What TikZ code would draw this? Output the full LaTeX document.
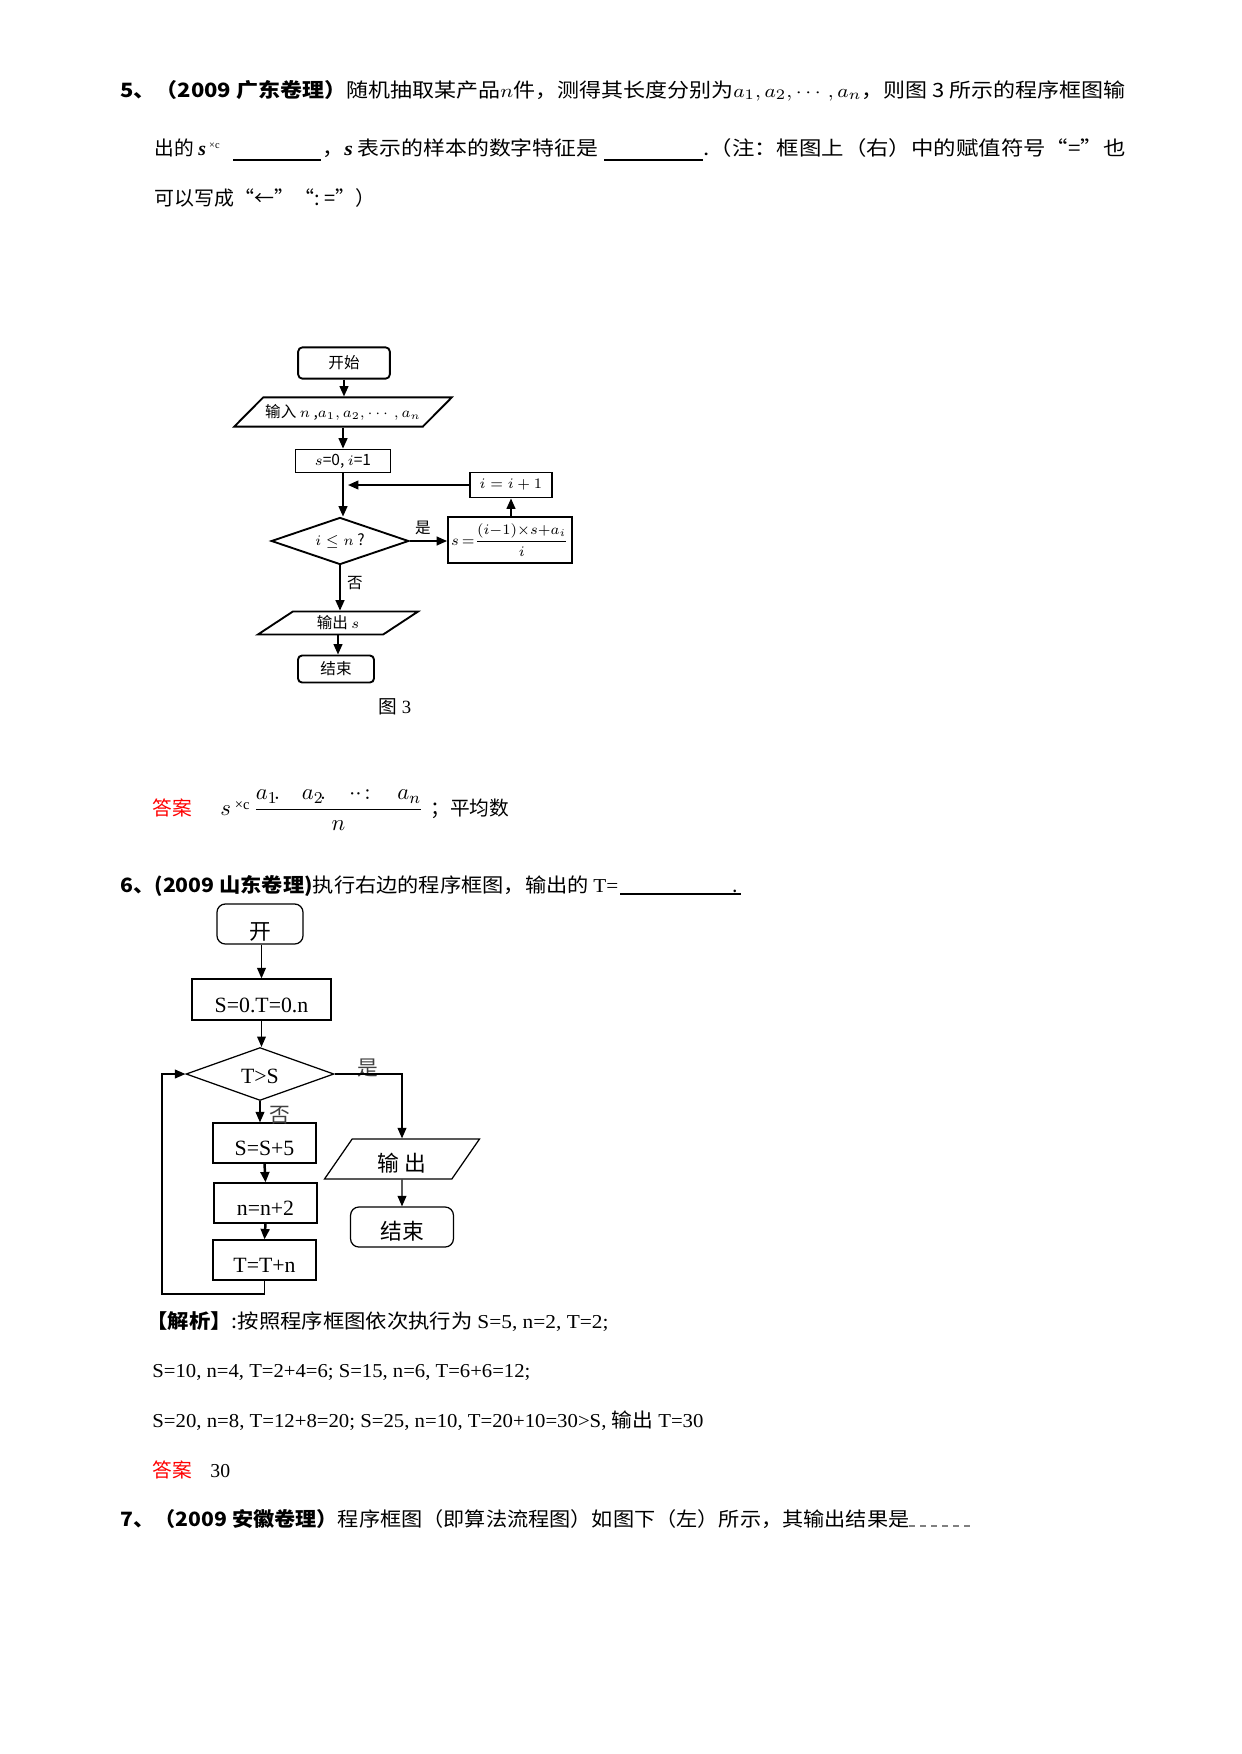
\documentclass[tikz,border=0pt]{standalone}
\usepackage{fontspec}
\usepackage{amsmath}
\usepackage{graphicx}
\setmainfont{Liberation Serif}
\newfontfamily\cjk{Noto Sans CJK SC}
\usetikzlibrary{shapes.geometric,arrows.meta}
\newcommand{\fitto}[2]{\resizebox{#1bp}{\height}{#2}}

\begin{document}
\begin{tikzpicture}[x=0.48bp,y=-0.48bp,>={Triangle[length=5bp,width=4.2bp]},
  txt/.style={anchor=base west,inner sep=0pt,font=\cjk\fontsize{9.5}{11}\selectfont},
  box1/.style={draw,line width=0.9bp,inner sep=1pt,font=\cjk\fontsize{7.5}{9}\selectfont},
  box2/.style={draw,line width=0.6bp,inner sep=1pt,font=\rmfamily\fontsize{10.5}{12}\selectfont,text height=12bp,text depth=0pt},
  lab2/.style={font=\cjk\fontsize{10}{12}\selectfont,text=black!75}]
  \useasboundingbox (0,0) rectangle (1241,1754);

  \node[txt] (q5a) at (120,97) {\fitto{482.4}{{\bfseries 5、（2009 广东卷理）}随机抽取某产品$n$件，测得其长度分别为$a_1,a_2,\cdots,a_n$，则图 3 所示的程序框图输}};
  \node[txt] (q5b) at (154,155) {出的 {\rmfamily\bfseries\itshape s}\,\raisebox{0.6ex}{\rmfamily\tiny ×c}};
  \draw[line width=0.6bp] (233,160) -- (321,160);
  \node[txt] (q5c) at (322,155) {\fitto{132.5}{，{\rmfamily\bfseries\itshape s} 表示的样本的数字特征是}};
  \draw[line width=0.6bp] (604,160) -- (703,160);
  \node[txt] (q5d) at (703,155) {\fitto{202.6}{.（注：框图上（右）中的赋值符号“=”也}};
  \node[txt] (q5e) at (154,205) {\fitto{106}{可以写成“←”“:~=”）}};

  \node[box1,rounded corners=2bp,minimum width=44bp,minimum height=15bp] (start1) at (344,363) {开始};
  \node[box1,trapezium,trapezium left angle=35,trapezium right angle=145,trapezium stretches body,minimum width=102bp,minimum height=14bp] (in1) at (343,412) {输入 $n$ ,$a_1,a_2,\cdots,a_n$};
  \node[box1,minimum width=45.6bp,minimum height=11bp] (init1) at (343,461) {$s$=0, $i$=1};
  \node[box1,diamond,shape aspect=2.8,inner sep=0pt,minimum width=66bp,minimum height=22.6bp] (dec1) at (340,541) {$i\le n$ ?};
  \node[box1,inner sep=0.5pt,minimum width=59.5bp,minimum height=22bp] (upd1) at (510,540) {$s\,{=}\dfrac{(i{-}1){\times}s{+}a_i}{i}$};
  \node[box1,minimum width=39.4bp,minimum height=12bp] (inc1) at (511,485) {$i=i+1$};
  \node[box1,trapezium,trapezium left angle=28,trapezium right angle=152,trapezium stretches body,minimum width=76.8bp,minimum height=11bp] (out1) at (338,623) {输出 $s$};
  \node[box1,rounded corners=2bp,minimum width=36.5bp,minimum height=13bp] (end1) at (336,669) {结束};
  \node[font=\cjk\fontsize{9}{11}\selectfont] (fig1) at (395,707) {图 {\rmfamily 3}};
  \coordinate (join1) at (348,485);
  \node[font=\cjk\fontsize{7.5}{9}\selectfont] (yes1) at (423,528) {是};
  \node[font=\cjk\fontsize{7.5}{9}\selectfont] (no1) at (355,583) {否};

  \draw[->,line width=0.9bp] (start1.south) -- (start1.south |- in1.north);
  \draw[->,line width=0.9bp] (in1.south) -- (in1.south |- init1.north);
  \draw[->,line width=0.9bp] (init1.south) -- (init1.south |- dec1.north);
  \draw[->,line width=0.9bp] (dec1.east) -- (dec1.east -| upd1.west);
  \draw[->,line width=0.9bp] (upd1.north -| inc1.south) -- (inc1.south);
  \draw[->,line width=0.9bp] (inc1.west) -- (join1);
  \draw[->,line width=0.9bp] (dec1.south) -- (dec1.south |- out1.north);
  \draw[->,line width=0.9bp] (out1.south) -- (out1.south |- end1.north);

  \node[txt,red] (ans5) at (152,815) {答案};
  \node[txt,font=\rmfamily\fontsize{11}{13}\selectfont] (ans5f) at (220,815) {$s$\,\raisebox{0.5ex}{\scriptsize ×c}\,$\dfrac{a_1\!.\hspace{0.95em}a_2\!.\hspace{1em}{\cdot}{\cdot}\!:\hspace{0.9em}a_n}{n}$};
  \node[txt] (ans5g) at (430,815) {；平均数};

  \node[txt] (q6) at (120,892) {\fitto{239}{{\bfseries 6、(2009 山东卷理)}执行右边的程序框图，输出的 {\rmfamily T=}}};
  \draw[line width=0.6bp] (620,894) -- (741,894);
  \node[txt] (q6dot) at (732,892) {.};

  \node[box2,rounded corners=4bp,minimum width=41.3bp,minimum height=19.2bp,text height=15bp] (start2) at (260,924) {\cjk 开};
  \node[box2,minimum width=66.7bp,minimum height=19.7bp] (init2) at (261.5,999.5) {S=0.T=0.n};
  \node[box2,diamond,shape aspect=2.8,inner sep=0pt,text height=9bp,minimum width=71bp,minimum height=25.4bp] (dec2) at (260,1074) {T>S};
  \node[box2,minimum width=49.4bp,minimum height=19.2bp] (s5) at (264.5,1143) {S=S+5};
  \node[box2,minimum width=49.4bp,minimum height=19.2bp] (n2) at (265.5,1203) {n=n+2};
  \node[box2,minimum width=49.4bp,minimum height=19.2bp] (T2) at (264.5,1260) {T=T+n};
  \node[box2,trapezium,trapezium left angle=46.5,trapezium right angle=133.5,trapezium stretches body,minimum width=74.4bp,minimum height=19.2bp] (out2) at (402,1159) {\cjk 输\ 出};
  \node[box2,rounded corners=4bp,minimum width=49.4bp,minimum height=19.2bp] (end2) at (402,1227) {\cjk 结束};
  \node[lab2] (yes2) at (368,1068) {是};
  \node[lab2] (no2) at (280,1115) {否};
  \coordinate (back2) at (162,1294);

  \draw[->,line width=0.6bp] (start2.south -| init2.north) -- (init2.north);
  \draw[->,line width=0.6bp] (init2.south) -- (init2.south |- dec2.north);
  \draw[->,line width=0.6bp] (dec2.south) -- (dec2.south |- s5.north);
  \draw[->,very thick] (s5.south) -- (n2.north);
  \draw[->,very thick] (n2.south) -- (T2.north);
  \draw[->,line width=0.6bp] (dec2.east) -| (out2.north);
  \draw[->,line width=0.6bp] (out2.south) -- (end2.north);
  \draw[->,line width=0.6bp] (T2.south) |- (back2) |- (dec2.west);

  \node[txt] (sol1) at (146,1328) {\fitto{221.8}{{\bfseries 【解析】}:按照程序框图依次执行为 {\rmfamily S=5, n=2, T=2;}}};
  \node[txt] (sol2) at (152,1377) {\fitto{181.4}{\rmfamily S=10, n=4, T=2+4=6; S=15, n=6, T=6+6=12;}};
  \node[txt] (sol3) at (152,1427) {\fitto{264.5}{\rmfamily S=20, n=8, T=12+8=20; S=25, n=10, T=20+10=30>S, {\cjk 输出} T=30}};
  \node[txt,red] (ans6) at (152,1477) {答案};
  \node[txt] (ans6v) at (210,1477) {\rmfamily 30};
  \node[txt] (q7) at (120,1526) {\fitto{378.7}{{\bfseries 7、（2009 安徽卷理）}程序框图（即算法流程图）如图下（左）所示，其输出结果是}};
  \draw[gray,line width=0.5bp,dash pattern=on 3bp off 2.3bp] (909,1526) -- (975,1526);
\end{tikzpicture}
\end{document}
